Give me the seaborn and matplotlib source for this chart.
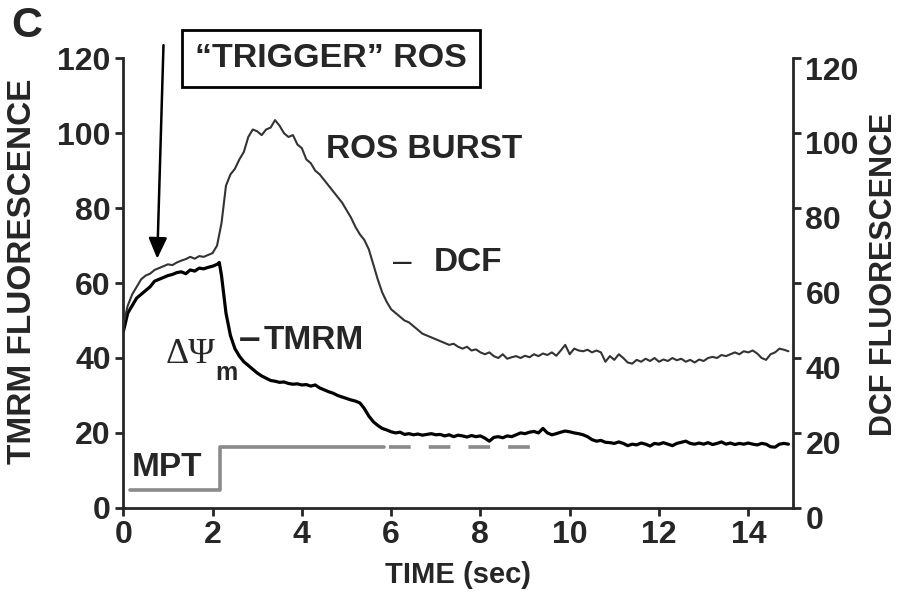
import matplotlib
matplotlib.use("Agg")
import matplotlib.pyplot as plt
import matplotlib.transforms as mtransforms
import seaborn as sns
import pandas as pd

# time axis (sec), sampled every 0.1 s
time = [round(i * 0.1, 1) for i in range(150)]

dcf = [49, 54, 57, 59, 61, 62, 62.5, 63.5, 64, 64.5,
       65, 64.8, 65.5, 66, 66.4, 67, 66.5, 67.2, 67, 67.5,
       68, 70, 76, 86, 89, 90.5, 93, 95, 99, 101,
       100.5, 99.5, 101, 101.5, 103.5, 102, 100, 99, 99.5, 97,
       96, 93, 92, 90, 89, 87.5, 86, 84.5, 83, 81.5,
       79.5, 77.5, 75, 73, 71.5, 69, 65, 61, 57.5, 55,
       53, 52, 51, 50, 49.5, 48.5, 47.5, 46.5, 46, 45.5,
       45, 44.5, 44, 43.5, 43.8, 43, 42.5, 43, 42, 42.3,
       41.5, 41, 41.5, 40.5, 40, 41, 39.8, 40.2, 40.5, 40,
       40.6, 40.2, 41, 40.5, 41.2, 40.8, 41.5, 40.6, 42, 43.5,
       41, 42.5, 42, 41.8, 42.2, 41.5, 42, 41.5, 39, 40.5,
       39.5, 41, 40, 38.8, 38.5, 39.5, 39, 39.8, 39.2, 40,
       39, 39.6, 39.2, 40, 39.4, 39.8, 39, 39.5, 38.8, 39.6,
       39.2, 40, 40.3, 40, 40.8, 40.5, 41, 41.5, 41, 41.8,
       41.5, 42, 41.2, 40, 39.5, 41, 41.5, 42.5, 42.2, 41.8]

tmrm_time = time[:22] + [2.15] + time[22:]
tmrm = [47, 52, 54, 56, 57, 58, 59, 60.5, 61, 61.5,
        62, 62.3, 62.8, 63, 62.5, 63.5, 63.2, 64, 63.8, 64.2,
        64.5, 65, 65.5, 62, 52, 46, 42.5, 40.5, 39, 38, 37,
        36, 35.2, 34.6, 34, 33.8, 33.5, 33.6, 33.2, 33, 33.1,
        32.8, 32.9, 32.5, 32.8, 32, 31.5, 31, 30.6, 30, 29.6,
        29.2, 28.8, 28.5, 28, 26.5, 24.5, 23, 22, 21.2, 20.8,
        20.3, 20, 20.2, 19.6, 19.8, 19.5, 19.7, 19.4, 19.6, 19.8,
        19.5, 19.6, 19.2, 19.5, 19, 19.4, 19.2, 18.9, 19.3, 19,
        19.2, 18.6, 17.8, 18.8, 19, 18.7, 19.2, 19, 19.5, 20,
        19.8, 20.2, 20.4, 20, 21.2, 20, 19.5, 19.8, 20.2, 20.5,
        20.3, 20, 19.8, 19.5, 19, 18.2, 17.8, 18, 17.5, 17.4,
        17.2, 17.6, 17.2, 16.6, 17, 16.8, 17.3, 17, 16.5, 17.2,
        17, 17.4, 17, 16.6, 17.2, 17.5, 17.8, 17.2, 17, 17.3,
        17, 17.4, 16.9, 17.2, 17.6, 17, 17.3, 16.9, 17.2, 17,
        17.3, 17, 16.8, 17.2, 17, 16.3, 16.2, 17, 17.2, 17]

# MPT step: closed -> open at ~2.17 s, dashed after ~5.9 s
mpt_time = [0.15, 2.17, 2.17, 5.85]
mpt = [4.8, 4.8, 16.3, 16.3]
mpt_dash_time = [5.95, 9.35]
mpt_dash = [16.3, 16.3]

x_ticks = [0, 2, 4, 6, 8, 10, 12, 14]
y_ticks = [0, 20, 40, 60, 80, 100, 120]

sns.set_style("ticks")
plt.rcParams['font.family'] = ['Liberation Sans', 'DejaVu Sans']
plt.rcParams['font.weight'] = 'bold'

fig, ax = plt.subplots(figsize=(9, 6.01), dpi=100)
fig.subplots_adjust(left=0.137, right=0.881, bottom=0.155, top=0.903)
ax2 = ax.twinx()

df_t = pd.DataFrame({'time': tmrm_time, 'value': tmrm})
df_d = pd.DataFrame({'time': time, 'value': dcf})

sns.lineplot(data=df_t, x='time', y='value', ax=ax, color='black',
             lw=2.3, estimator=None, sort=False)
sns.lineplot(data=df_d, x='time', y='value', ax=ax2, color='#333333',
             lw=1.5, estimator=None, sort=False)
sns.lineplot(x=mpt_time, y=mpt, ax=ax, color='#8a8a8a', lw=2.6,
             estimator=None, sort=False)
ax.plot(mpt_dash_time, mpt_dash, color='#8a8a8a', lw=2.6,
        dashes=(6, 5))

for a in (ax, ax2):
    a.set_xlim(0, 15)
    a.set_ylim(0, 120)
    a.set_yticks(y_ticks)
    a.spines['top'].set_visible(False)
    for s in a.spines.values():
        s.set_linewidth(2)
    a.tick_params(width=2, length=6, labelsize=23, pad=3)

ax.spines['right'].set_visible(False)
ax2.spines['left'].set_visible(False)
ax2.spines['bottom'].set_visible(False)
ax.set_xticks(x_ticks)
ax.set_xticklabels([str(v) for v in x_ticks])

# right tick labels sit a bit below their ticks in the original
offset = mtransforms.ScaledTranslation(0, -7 / 72, fig.dpi_scale_trans)
for lab in ax2.get_yticklabels():
    lab.set_transform(lab.get_transform() + offset)

ax.set_xlabel('TIME (sec)', fontsize=21, fontweight='bold')
ax.set_ylabel('TMRM FLUORESCENCE', fontsize=24, fontweight='bold')
ax2.set_ylabel('DCF FLUORESCENCE', fontsize=22, fontweight='bold',
               rotation=90)
ax.xaxis.set_label_coords(0.5, -0.118)
ax.yaxis.set_label_coords(-0.128, 0.527)
ax2.yaxis.set_label_coords(1.114, 0.52)

# annotations
fig.text(27 / 900, 1 - 26 / 601, 'C', fontsize=31, fontweight='bold',
         ha='center', va='center')
ax.text(4.66, 120, '\u201cTRIGGER\u201d ROS', fontsize=24.5, fontweight='bold',
        ha='center', va='center', clip_on=False,
        bbox=dict(boxstyle='square,pad=0.38', fc='white', ec='black', lw=2))
ax.annotate('', xy=(0.76, 66.5), xytext=(0.9, 123.5),
            arrowprops=dict(arrowstyle='-|>,head_length=0.9,head_width=0.4',
                            color='black', lw=1.8, mutation_scale=14,
                            shrinkA=0, shrinkB=0),
            annotation_clip=False)
ax.text(4.53, 95.7, 'ROS BURST', fontsize=24, fontweight='bold',
        ha='left', va='center')
ax.text(6.05, 65.6, '\u2013', fontsize=24, fontweight='normal',
        ha='left', va='center')
ax.text(6.95, 65.6, 'DCF', fontsize=24, fontweight='bold',
        ha='left', va='center')
ax.text(2.6, 44.8, '\u2013', fontsize=28, fontweight='bold',
        ha='left', va='center')
ax.text(3.15, 44.8, 'TMRM', fontsize=24, fontweight='bold',
        ha='left', va='center')
ax.text(0.94, 41, '\u0394\u03a8', fontsize=26, fontweight='normal',
        family='Liberation Serif', ha='left', va='center')
ax.text(2.05, 36, 'm', fontsize=18, fontweight='bold',
        ha='left', va='center')
ax.text(0.18, 10.7, 'MPT', fontsize=24, fontweight='bold',
        ha='left', va='center')

fig.savefig('out.png', dpi=100)
